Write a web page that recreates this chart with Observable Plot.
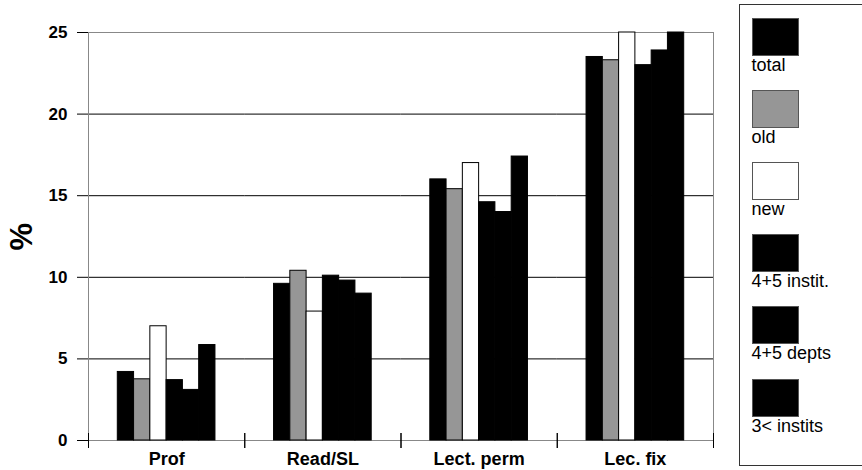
<!DOCTYPE html>
<html><head><meta charset="utf-8">
<script src="https://cdn.jsdelivr.net/npm/d3@7"></script>
<script src="https://cdn.jsdelivr.net/npm/@observablehq/plot@0.6"></script>
<style>
body{margin:0;background:#fff;font-family:"Liberation Sans",Arial,sans-serif;overflow:hidden}
#wrap{position:relative;width:862px;height:470px;overflow:hidden}
#legend{position:absolute;left:739px;top:4px;width:160px;height:462px;border:1.5px solid #333;box-sizing:border-box;background:#fff}
.item{position:absolute;left:11.5px}
.sw{width:47px;height:38px;box-sizing:border-box;border:1px solid #555}
.lab{font-size:18px;line-height:18px;color:#000;white-space:nowrap}
</style></head><body><div id="wrap"></div>
<script>
const categories = ["Prof", "Read/SL", "Lect. perm", "Lec. fix"];
const seriesNames = ["total", "old", "new", "4+5 instit.", "4+5 depts", "3< instits"];
const seriesColors = ["#000000", "#969696", "#ffffff", "#000000", "#000000", "#000000"];
const totalValues = [4.2, 9.6, 16.0, 23.5];
const oldValues = [3.75, 10.4, 15.4, 23.3];
const newValues = [7.0, 7.9, 17.0, 25.0];
const inst45Values = [3.7, 10.1, 14.6, 23.0];
const depts45Values = [3.1, 9.8, 14.0, 23.9];
const inst3Values = [5.85, 9.0, 17.4, 25.0];
const yTicks = [0, 5, 10, 15, 20, 25];
const gridValues = [5, 10, 15, 20];

const seriesValues = [totalValues, oldValues, newValues, inst45Values, depts45Values, inst3Values];
const data = categories.flatMap((c, i) => seriesNames.map((s, j) => ({category: c, series: s, value: seriesValues[j][i]})));

const chart = Plot.plot({
  width: 862, height: 470,
  marginLeft: 88, marginRight: 149, marginTop: 32, marginBottom: 30,
  style: {fontFamily: "'Liberation Sans', Arial, sans-serif", background: "#fff", color: "#000"},
  fx: {domain: categories, padding: 0, round: false, label: null},
  x: {domain: seriesNames, paddingInner: 0, paddingOuter: 1.8, round: false, axis: null},
  y: {domain: [0, 25], axis: null},
  color: {domain: seriesNames, range: seriesColors},
  marks: [
    Plot.ruleY(gridValues, {stroke: "#000", strokeWidth: 1}),
    Plot.frame({facet: "super", stroke: "#888", strokeWidth: 1}),
    Plot.barY(data, {fx: "category", x: "series", y: "value", fill: "series", stroke: "#000", strokeWidth: 1}),
    Plot.frame({anchor: "left", stroke: "#000", insetTop: 401, insetBottom: -7}),
    Plot.frame({anchor: "right", stroke: "#000", insetTop: 401, insetBottom: -7}),
    Plot.axisY({ticks: yTicks, tickSize: 11, tickPadding: 10, fontSize: 17, fontWeight: "bold", label: null, tickFormat: d => String(d)}),
    Plot.axisFx({anchor: "bottom", tickSize: 0, tickPadding: 12, fontSize: 18, fontWeight: "bold", label: null}),
    Plot.text(["%"], {facet: "super", frameAnchor: "left", dx: -66, dy: 14, rotate: -90, fontSize: 31, fontWeight: "bold"})
  ]
});
const wrap = document.getElementById("wrap");
wrap.appendChild(chart);

const legend = document.createElement("div");
legend.id = "legend";
seriesNames.forEach((s, j) => {
  const item = document.createElement("div");
  item.className = "item";
  item.style.top = (12.5 + j * 72.2) + "px";
  const sw = document.createElement("div");
  sw.className = "sw";
  sw.style.background = seriesColors[j];
  const lab = document.createElement("div");
  lab.className = "lab";
  lab.textContent = s;
  item.appendChild(sw);
  item.appendChild(lab);
  legend.appendChild(item);
});
wrap.appendChild(legend);
</script></body></html>
